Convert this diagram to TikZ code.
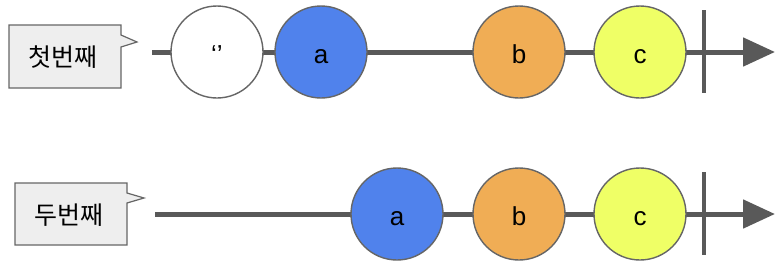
\documentclass[tikz,border=0pt]{standalone}
\usepackage{fontspec}
\setmainfont{Liberation Sans}
\newfontfamily\krfont{Noto Sans CJK KR}
\usetikzlibrary{arrows.meta, positioning}

\definecolor{linegray}{HTML}{595959}
\definecolor{rimgray}{HTML}{666666}
\definecolor{itemblue}{HTML}{5082EC}
\definecolor{itemorange}{HTML}{F0AD55}
\definecolor{itemyellow}{HTML}{EFFF66}
\definecolor{notegray}{HTML}{EEEEEE}

\begin{document}
\begin{tikzpicture}[
        x=1pt, y=-1pt,
        item/.style={circle, draw=rimgray, line width=1.4pt, minimum size=92pt, inner sep=0pt, text height=22pt, text depth=0pt, font=\fontsize{26}{26}\selectfont},
        note/.style={draw=rimgray, fill=notegray, line width=1.2pt},
        notetext/.style={font=\krfont\fontsize{25}{25}\selectfont},
        timeline/.style={draw=linegray, line width=5pt, -{Triangle[length=32pt, width=28pt]}},
        endbar/.style={draw=linegray, line width=4.5pt}
    ]
    \useasboundingbox (0,0) rectangle (782,269);

    % First stream
    \coordinate (start1) at (152,52);
    \coordinate (end1) at (775,52);
    \draw[timeline] (start1) -- (end1);
    \node[item, fill=white] (empty1) at (217,52) {‘’};
    \node[item, fill=itemblue] (a1) at (321,52) {a};
    \node[item, fill=itemorange] (b1) at (519,52) {b};
    \node[item, fill=itemyellow] (c1) at (640,52) {c};
    \coordinate (bartop1) at (704,10);
    \coordinate (barbot1) at (704,93);
    \draw[endbar] (bartop1) -- (barbot1);

    % First label
    \filldraw[note] (9,25) -- (121,25) -- (121,35) -- (137,42) -- (121,47) -- (121,88) -- (9,88) -- cycle;
    \node[notetext] (label1) at (63,57) {첫번째};

    % Second stream
    \coordinate (start2) at (155,214);
    \coordinate (end2) at (775,214);
    \draw[timeline] (start2) -- (end2);
    \node[item, fill=itemblue] (a2) at (397,214) {a};
    \node[item, fill=itemorange] (b2) at (519,214) {b};
    \node[item, fill=itemyellow] (c2) at (640,214) {c};
    \coordinate (bartop2) at (704,172);
    \coordinate (barbot2) at (704,255);
    \draw[endbar] (bartop2) -- (barbot2);

    % Second label
    \filldraw[note] (15,183) -- (127,183) -- (127,193) -- (144,198) -- (127,203) -- (127,245) -- (15,245) -- cycle;
    \node[notetext] (label2) at (69,215) {두번째};

\end{tikzpicture}
\end{document}
